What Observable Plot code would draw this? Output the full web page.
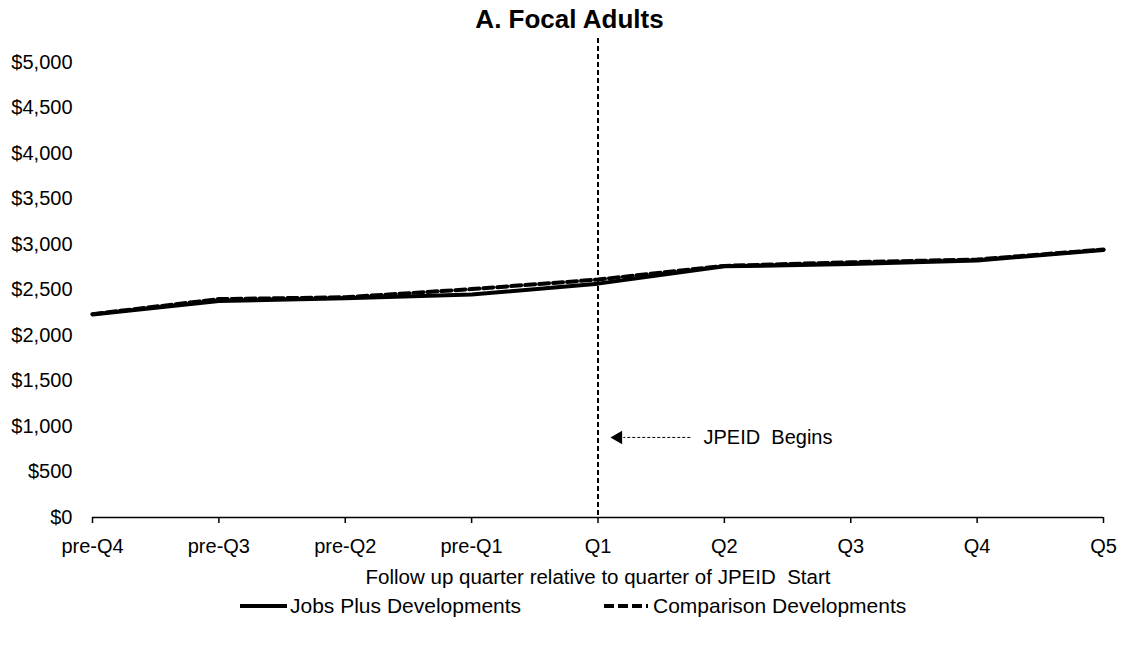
<!DOCTYPE html>
<html>
<head>
<meta charset="utf-8">
<script src="https://cdn.jsdelivr.net/npm/d3@7"></script>
<script src="https://cdn.jsdelivr.net/npm/@observablehq/plot@0.6"></script>
<style>
  html, body { margin: 0; padding: 0; background: #fff; }
  body { width: 1121px; height: 647px; overflow: hidden; font-family: "Liberation Sans", Arial, sans-serif; color: #000; }
  #title { height: 38px; line-height: 38px; text-align: center; padding-left: 18px; font-weight: bold; font-size: 26px; }
  #chart svg text { white-space: pre; }
  #legend { position: relative; height: 52px; font-size: 21px; }
  #legend .item { position: absolute; top: 0; height: 22px; line-height: 22px; white-space: pre; }
  #legend svg { position: absolute; top: 0; }
</style>
</head>
<body>
<div id="title">A. Focal Adults</div>
<div id="chart"></div>
<div id="legend"></div>
<script>
// Quarters relative to the start of JPEID
const quarters = ["pre-Q4", "pre-Q3", "pre-Q2", "pre-Q1", "Q1", "Q2", "Q3", "Q4", "Q5"];
// Average quarterly earnings, focal adults
const jobsPlus   = [2230, 2380, 2410, 2450, 2570, 2760, 2785, 2825, 2940];
const comparison = [2235, 2400, 2420, 2510, 2615, 2765, 2805, 2835, 2945];
const yTicks = [0, 500, 1000, 1500, 2000, 2500, 3000, 3500, 4000, 4500, 5000];
const seriesNames = ["Jobs Plus Developments", "Comparison Developments"];
const xTitle = "Follow up quarter relative to quarter of JPEID  Start";
const noteText = "JPEID  Begins";
const startIndex = quarters.indexOf("Q1");
const noteValue = 880;

const jpRows = quarters.map((q, i) => ({i, q, v: jobsPlus[i]}));
const cmpRows = quarters.map((q, i) => ({i, q, v: comparison[i]}));

const chart = Plot.plot({
  width: 1121,
  height: 557,
  marginTop: 0,
  marginLeft: 92,
  marginRight: 18,
  marginBottom: 78,
  style: {fontFamily: "'Liberation Sans', Arial, sans-serif", fontSize: "20px", color: "#000", background: "#fff", overflow: "visible"},
  x: {domain: [0, quarters.length - 1], label: null},
  y: {domain: [0, 5264], label: null},
  marks: [
    Plot.axisX({ticks: d3.range(quarters.length), tickFormat: i => quarters[i], tickSize: 6, tickPadding: 15, fontSize: 20, label: null, strokeWidth: 1.5}),
    Plot.axisY({ticks: yTicks, tickFormat: d => "$" + d3.format(",")(d), tickSize: 0, tickPadding: 20, fontSize: 20, label: null}),
    Plot.ruleY([0], {stroke: "#000", strokeWidth: 1.5}),
    Plot.ruleX([startIndex], {stroke: "#000", strokeWidth: 2, strokeDasharray: "5,3"}),
    Plot.line(jpRows, {x: "i", y: "v", stroke: "#000", strokeWidth: 4}),
    Plot.line(cmpRows, {x: "i", y: "v", stroke: "#000", strokeWidth: 4, strokeDasharray: "10,4"}),
    // annotation: dashed arrow pointing at the start line
    Plot.link([{x1: startIndex + 0.73, x2: startIndex + 0.2, y: noteValue}], {x1: "x1", x2: "x2", y1: "y", y2: "y", stroke: "#000", strokeWidth: 1, strokeDasharray: "3,2"}),
    Plot.dot([{x: startIndex + 0.16, y: noteValue}], {x: "x", y: "y", symbol: "triangle", r: 5, fill: "#000", stroke: null, rotate: -90}),
    Plot.text([noteText], {x: () => startIndex + 0.835, y: () => noteValue, textAnchor: "start", fontSize: 20, fill: "#000"}),
    Plot.text([xTitle], {frameAnchor: "bottom", dy: 66, fontSize: 20.5, fill: "#000"})
  ]
});
document.getElementById("chart").appendChild(chart);

// legend below the chart
const legend = document.getElementById("legend");
const legendItems = [
  {name: seriesNames[0], lineLeft: 240, lineWidth: 47, textLeft: 290, dash: null},
  {name: seriesNames[1], lineLeft: 604, lineWidth: 44, textLeft: 653, dash: "10,4"}
];
for (const it of legendItems) {
  const svg = d3.create("svg").attr("width", it.lineWidth).attr("height", 22).style("left", it.lineLeft + "px");
  svg.append("line").attr("x1", 0).attr("x2", it.lineWidth).attr("y1", 11).attr("y2", 11)
    .attr("stroke", "#000").attr("stroke-width", 4).attr("stroke-dasharray", it.dash);
  legend.appendChild(svg.node());
  const t = document.createElement("div");
  t.className = "item";
  t.style.left = it.textLeft + "px";
  t.textContent = it.name;
  legend.appendChild(t);
}
</script>
</body>
</html>
